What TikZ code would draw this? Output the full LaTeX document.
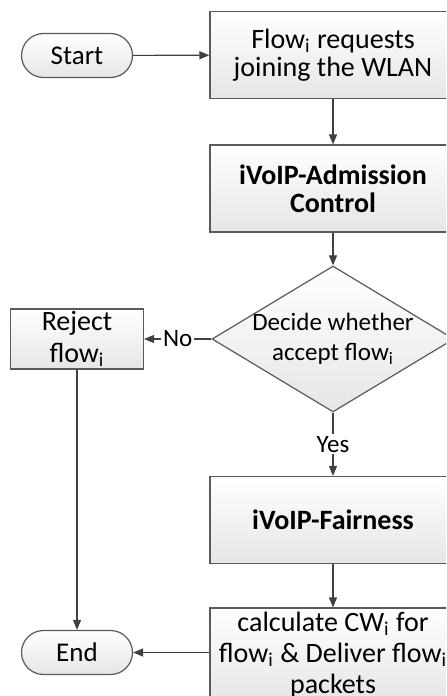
\documentclass[tikz,border=0pt]{standalone}
\usepackage{fontspec}
\setmainfont{Carlito}
\usetikzlibrary{arrows.meta}
\usetikzlibrary{shapes.geometric}

\definecolor{boxline}{HTML}{5A5A5A}
\definecolor{boxfill}{HTML}{E6E6E6}
\definecolor{arrowline}{HTML}{404040}

\begin{document}
\begin{tikzpicture}[x=0.5pt,y=-0.5pt,
    box/.style={draw=boxline, line width=0.6pt, top color=white, bottom color=boxfill,
        minimum width=123pt, minimum height=43.5pt, inner sep=0pt, align=center,
        font=\fontsize{14}{14}\selectfont},
    term/.style={draw=boxline, line width=0.6pt, top color=white, bottom color=boxfill,
        rounded corners=11pt, minimum width=55.5pt, minimum height=22pt, inner sep=0pt,
        font=\fontsize{13.5}{14}\selectfont},
    decision/.style={diamond, draw=boxline, line width=0.6pt, top color=white, bottom color=boxfill,
        minimum width=121pt, minimum height=73pt, aspect=1.66, inner sep=-1.5pt, align=center,
        font=\fontsize{12.5}{15}\selectfont},
    flow/.style={draw=arrowline, line width=0.6pt, -{Triangle[length=5pt,width=4pt]}},
    lbl/.style={fill=white, inner sep=1pt, font=\fontsize{12.5}{14}\selectfont}]
    \useasboundingbox (0,0) rectangle (446,696);
    \clip (0,0) rectangle (446,696);
    % left column
    \node[term] (start) at (77,55.5) {Start};
    \node[box, minimum width=66.5pt, minimum height=30pt, font=\fontsize{14}{16}\selectfont] (rej) at (77,339) {Reject\\flow\textsubscript{i}};
    \node[term] (end) at (77,652.5) {End};
    % right column
    \node[box] (req) at (333,55) {Flow\textsubscript{i} requests\\joining the WLAN};
    \node[box, font=\bfseries\fontsize{14}{14}\selectfont] (adm) at (333,188.5) {iVoIP-Admission\\Control};
    \node[decision] (dec) at (333,339) {Decide whether\\accept flow\textsubscript{i}};
    \node[box, font=\bfseries\fontsize{14}{14}\selectfont] (fair) at (333,520) {iVoIP-Fairness};
    \node[box, minimum height=47pt, font=\fontsize{14}{15.5}\selectfont] (calc) at (333,655) {calculate CW\textsubscript{i} for\\flow\textsubscript{i} \& Deliver flow\textsubscript{i}\\packets};
    % connectors
    \draw[flow] (start) -- (req);
    \draw[flow] (req) -- (adm);
    \draw[flow] (adm) -- (dec);
    \draw[flow] (dec) -- node[lbl] {No} (rej);
    \draw[flow] (dec) -- node[lbl] {Yes} (fair);
    \draw[flow] (rej) -- (end);
    \draw[flow] (fair) -- (calc);
    \draw[flow] (calc.west |- end) -- (end);
\end{tikzpicture}
\end{document}
